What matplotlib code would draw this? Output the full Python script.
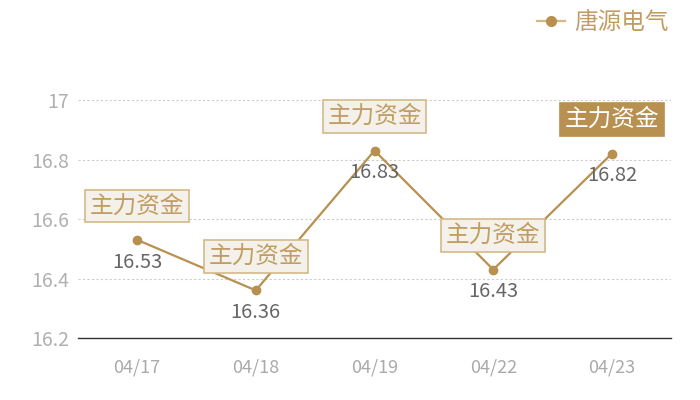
import matplotlib
matplotlib.use("Agg")
import matplotlib.pyplot as plt
from matplotlib.lines import Line2D

plt.rcParams['font.family'] = ['Noto Sans CJK SC', 'DejaVu Sans']

dates = ['04/17', '04/18', '04/19', '04/22', '04/23']
prices = [16.53, 16.36, 16.83, 16.43, 16.82]
tag_text = '主力资金'
series_name = '唐源电气'
yticks = [16.2, 16.4, 16.6, 16.8, 17]
ytick_labels = ['16.2', '16.4', '16.6', '16.8', '17']

gold = '#b8904f'
light_gold = '#d4b888'
tag_text_color = '#c29d62'

fig = plt.figure(figsize=(7, 4), dpi=100)
ax = fig.add_axes([0.111, 0.155, 0.848, 0.595])

x = list(range(len(dates)))
ax.plot(x, prices, color=gold, linewidth=1.6, marker='o', markersize=6,
        markerfacecolor=gold, markeredgecolor=gold, zorder=3, clip_on=False)

for i, v in enumerate(prices):
    ax.annotate(f'{v:.2f}', (i, v), xytext=(0, -16), textcoords='offset points',
                ha='center', va='center', fontsize=14.5, color='#666666', zorder=4)
    last = i == len(prices) - 1
    ax.annotate(tag_text, (i, v), xytext=(0, 24.5), textcoords='offset points',
                ha='center', va='center', fontsize=17,
                color='white' if last else tag_text_color, zorder=5,
                bbox=dict(boxstyle='square,pad=0.2',
                          facecolor=gold if last else '#f4f0ea',
                          edgecolor=gold if last else light_gold, linewidth=1.2))

ax.set_xlim(-0.5, len(dates) - 0.5)
ax.set_ylim(16.2, 17)
ax.set_xticks(x)
ax.set_xticklabels(dates)
ax.set_yticks(yticks)
ax.set_yticklabels(ytick_labels)
ax.tick_params(axis='x', length=0, pad=15, labelsize=13, labelcolor='#aaaaaa')
ax.tick_params(axis='y', length=0, pad=6, labelsize=14, labelcolor='#b0b0b0')
ax.grid(axis='y', linestyle=(0, (2, 2)), color='#cccccc', linewidth=0.8)
for s in ['top', 'right', 'left']:
    ax.spines[s].set_visible(False)
ax.spines['bottom'].set_color('#333333')
ax.spines['bottom'].set_linewidth(1)

handle = Line2D([], [], color=light_gold, linewidth=1.6, marker='o', markersize=7,
                markerfacecolor=gold, markeredgecolor=gold)
leg = fig.legend([handle], [series_name], loc='upper right', bbox_to_anchor=(0.985, 1.025),
                 frameon=False, fontsize=17, handlelength=1.2, handletextpad=0.35)
for t in leg.get_texts():
    t.set_color(tag_text_color)

fig.savefig('out.png', dpi=100)
